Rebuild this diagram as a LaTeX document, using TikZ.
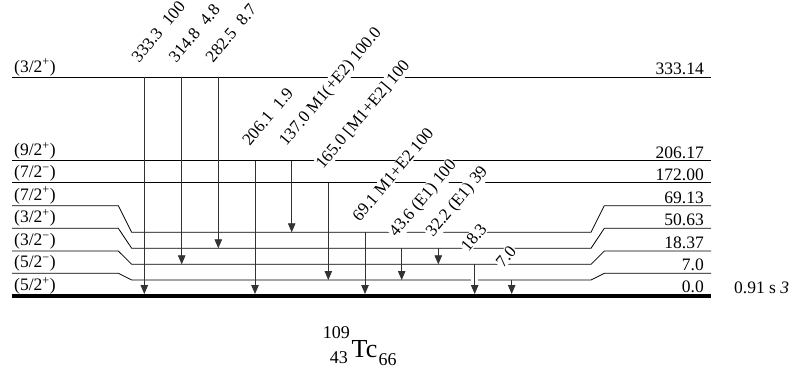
\documentclass[tikz,border=0pt]{standalone}
\usepackage{fontspec}
\setmainfont{Liberation Serif}
\usetikzlibrary{arrows.meta}
\begin{document}
\begin{tikzpicture}[x=1bp,y=-1bp,
  level/.style={draw=black, line width=0.8bp},
  gslevel/.style={draw=black, line width=4.6bp},
  gam/.style={draw=black!80, line width=0.8bp, -{Triangle[width=7.5bp,length=9bp]}},
  glab/.style={rotate=50, anchor=base west, fill=white, inner sep=1bp, font=\fontsize{17bp}{19bp}\selectfont},
  jlab/.style={anchor=base west, inner sep=0pt, font=\fontsize{17.5bp}{20bp}\selectfont},
  elab/.style={anchor=base east, inner sep=0pt, font=\fontsize{17.5bp}{20bp}\selectfont},
]
\useasboundingbox (0,0) rectangle (796,377);

% levels
\draw[level] (12,77) -- (711,77);
\draw[level] (12,160.7) -- (711,160.7);
\draw[level] (12,182.7) -- (711,182.7);
\draw[level] (12,205.7) -- (118.3,205.7) -- (131.7,232.3) -- (591,232.3) -- (604.3,205.7) -- (711,205.7);
\draw[level] (12,228.3) -- (118.3,228.3) -- (131.7,248.3) -- (591,248.3) -- (604.3,228.3) -- (711,228.3);
\draw[level] (12,251) -- (118.3,251) -- (131.7,264.3) -- (591,264.3) -- (604.3,251) -- (711,251);
\draw[level] (12,273.3) -- (118.3,273.3) -- (131.7,280) -- (591,280) -- (604.3,273.3) -- (711,273.3);
\draw[gslevel] (12,296) -- (711,296);

% spin labels
\node[jlab] (j1) at (14,72) {(3/2\textsuperscript{+})};
\node[jlab] (j2) at (14,155.5) {(9/2\textsuperscript{+})};
\node[jlab] (j3) at (14,177.5) {(7/2\textsuperscript{−})};
\node[jlab] (j4) at (14,200.2) {(7/2\textsuperscript{+})};
\node[jlab] (j5) at (14,222.8) {(3/2\textsuperscript{+})};
\node[jlab] (j6) at (14,245.5) {(3/2\textsuperscript{−})};
\node[jlab] (j7) at (14,267.8) {(5/2\textsuperscript{−})};
\node[jlab] (j8) at (14,290.3) {(5/2\textsuperscript{+})};

% energy labels
\node[elab] (e1) at (704,74.3) {333.14};
\node[elab] (e2) at (704,158.1) {206.17};
\node[elab] (e3) at (704,180.1) {172.00};
\node[elab] (e4) at (704,203.1) {69.13};
\node[elab] (e5) at (704,225.7) {50.63};
\node[elab] (e6) at (704,248.4) {18.37};
\node[elab] (e7) at (704,270.7) {7.0};
\node[elab] (e8) at (704,292.6) {0.0};
\node[jlab] (hl) at (734,293) {0.91 s \textit{3}};

% gamma end points
\coordinate (a1) at (144.3,77);   \coordinate (b1) at (144.3,294);
\coordinate (a2) at (181.7,77);   \coordinate (b2) at (181.7,264.3);
\coordinate (a3) at (218.3,77);   \coordinate (b3) at (218.3,248.3);
\coordinate (a4) at (255,160.7);  \coordinate (b4) at (255,294);
\coordinate (a5) at (291.7,160.7);\coordinate (b5) at (291.7,232.3);
\coordinate (a6) at (328.3,182.7);\coordinate (b6) at (328.3,280);
\coordinate (a7) at (365,232.3);  \coordinate (b7) at (365,294);
\coordinate (a8) at (401.7,248.3);\coordinate (b8) at (401.7,280);
\coordinate (a9) at (438.3,248.3);\coordinate (b9) at (438.3,264.3);
\coordinate (a10) at (474.7,264.3);\coordinate (b10) at (474.7,294);
\coordinate (a11) at (511.7,280); \coordinate (b11) at (511.7,294);

\foreach \i in {1,...,9,11} \draw[gam] (a\i) -- (b\i);
\draw[gam, preaction={draw=white, line width=7bp, shorten <=4bp, shorten >=10bp, -}] (a10) -- (b10);

% gamma labels
\node[glab] (g1) at ([xshift=-6bp,yshift=13bp]a1) {333.3\hspace{0.55em}100};
\node[glab] (g2) at ([xshift=-6bp,yshift=13bp]a2) {314.8\hspace{0.55em}4.8};
\node[glab] (g3) at ([xshift=-6bp,yshift=13bp]a3) {282.5\hspace{0.55em}8.7};
\node[glab] (g4) at ([xshift=-6bp,yshift=13bp]a4) {206.1\hspace{0.55em}1.9};
\node[glab] (g5) at ([xshift=-6bp,yshift=13bp]a5) {137.0 M1(+E2) 100.0};
\node[glab] (g6) at ([xshift=-6bp,yshift=12bp]a6) {165.0 [M1+E2] 100};
\node[glab] (g7) at ([xshift=-6bp,yshift=9bp]a7) {69.1 M1+E2 100};
\node[glab] (g8) at ([xshift=-6bp,yshift=10bp]a8) {43.6 (E1) 100};
\node[glab] (g9) at ([xshift=-6bp,yshift=10bp]a9) {32.2 (E1) 39};
\node[glab] (g10) at ([xshift=-7bp,yshift=11bp]a10) {18.3};
\node[glab] (g11) at ([xshift=-9bp,yshift=11bp]a11) {7.0};

% nuclide
\node[anchor=base west, inner sep=0pt, font=\fontsize{26bp}{28bp}\selectfont] (tc) at (351.5,357) {Tc};
\node[anchor=base east, inner sep=0pt, font=\fontsize{18bp}{20bp}\selectfont] (ma) at (350,338.5) {109};
\node[anchor=base east, inner sep=0pt, font=\fontsize{18bp}{20bp}\selectfont] (zz) at (348,363) {43};
\node[anchor=base west, inner sep=0pt, font=\fontsize{18bp}{20bp}\selectfont] (nn) at (378.5,365) {66};
\end{tikzpicture}
\end{document}
